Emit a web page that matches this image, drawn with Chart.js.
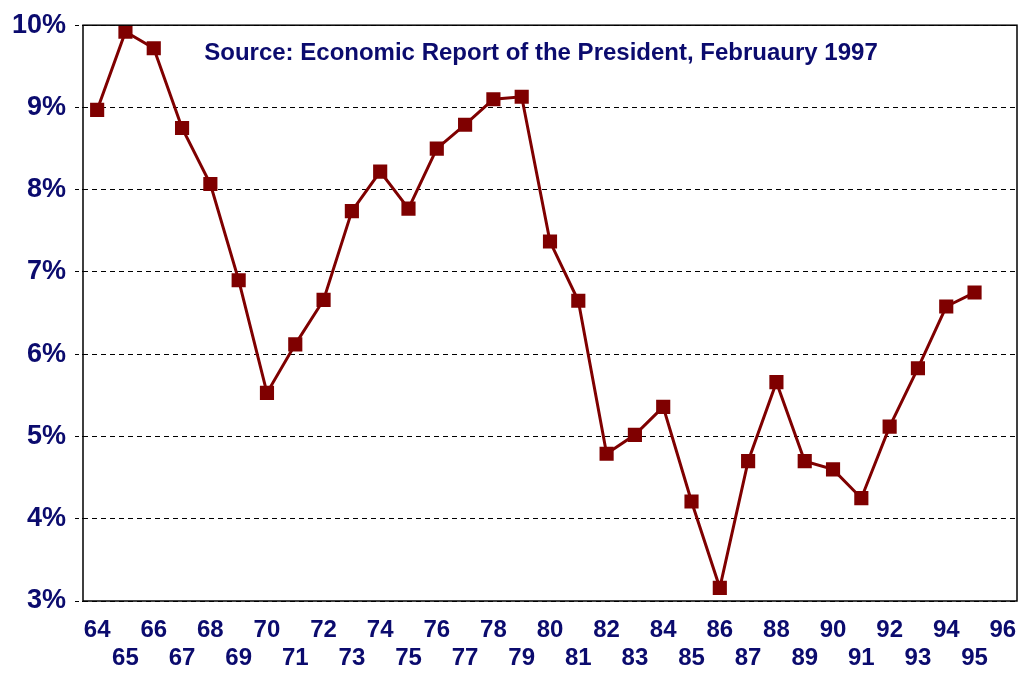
<!doctype html><html lang="en"><head>
<meta charset="UTF-8"><title>Rate chart</title>
<script src="https://cdn.jsdelivr.net/npm/chart.js"></script>
<style>
 body{margin:0;background:#fff}
 #wrap{width:1022px;height:675px}
</style></head><body>
<div id="wrap"><canvas id="chart" width="1022" height="675"></canvas></div>
<script>
// ----- data -----
const years  = ['64','65','66','67','68','69','70','71','72','73','74','75','76','77','78','79','80',
                '81','82','83','84','85','86','87','88','89','90','91','92','93','94','95','96'];
const rates  = [8.97,9.92,9.72,8.75,8.07,6.90,5.53,6.12,6.66,7.74,8.22,7.77,8.50,8.79,9.10,9.13,7.37,
                6.65,4.79,5.02,5.36,4.21,3.16,4.70,5.66,4.70,4.60,4.25,5.12,5.83,6.58,6.75,null];
const yTicks = [3,4,5,6,7,8,9,10];
const source = 'Source: Economic Report of the President, Februaury 1997';

const NAVY = '#0b0b6e', LINE = '#7f0000';

// frame + source note inside plot area
const framePlugin = {
  id:'frame',
  afterDraw(chart){
    const {ctx, chartArea:a} = chart;
    ctx.save();
    ctx.strokeStyle='#000'; ctx.lineWidth=1.5;
    ctx.strokeRect(a.left, a.top, a.right-a.left, a.bottom-a.top);
    ctx.fillStyle=NAVY; ctx.font='bold 24px "Liberation Sans", Arial, sans-serif';
    ctx.textAlign='center'; ctx.textBaseline='middle';
    ctx.fillText(source, 541, 53);
    ctx.restore();
  }
};

new Chart(document.getElementById('chart'),{
  type:'line',
  data:{labels:years,datasets:[{
    data:rates, borderColor:LINE, borderWidth:3, backgroundColor:LINE,
    pointStyle:'rect', pointRadius:10, pointHoverRadius:10, pointBorderWidth:0,
    tension:0, spanGaps:false }]},
  options:{
    responsive:false, animation:false,
    layout:{autoPadding:false,padding:{top:23,right:5,left:0,bottom:0}},
    plugins:{legend:{display:false},tooltip:{enabled:false}},
    scales:{
      x:{
        offset:true,
        grid:{display:false,drawTicks:false},
        border:{display:false},
        ticks:{
          autoSkip:false, maxRotation:0, padding:15, color:NAVY,
          font:{family:'"Liberation Sans", Arial, sans-serif',size:24,weight:'bold',lineHeight:1.17},
          callback:(v,i)=> i%2===0 ? [years[i],''] : ['',years[i]]
        },
        afterFit:s=>{ s.height=74; s.paddingLeft=0; s.paddingRight=0; }
      },
      y:{
        min:3, max:10,
        afterBuildTicks:s=>{ s.ticks = yTicks.map(v=>({value:v})); },
        grid:{color:'#000',lineWidth:1,tickLength:8,tickBorderDash:[4,3]},
        border:{display:false,dash:[5,4]},
        ticks:{
          padding:9, color:NAVY,
          font:{family:'"Liberation Sans", Arial, sans-serif',size:27,weight:'bold'},
          callback:v=>v+'%'
        },
        afterFit:s=>{ s.width=83; }
      }
    }
  },
  plugins:[framePlugin]
});
</script>
</body></html>
